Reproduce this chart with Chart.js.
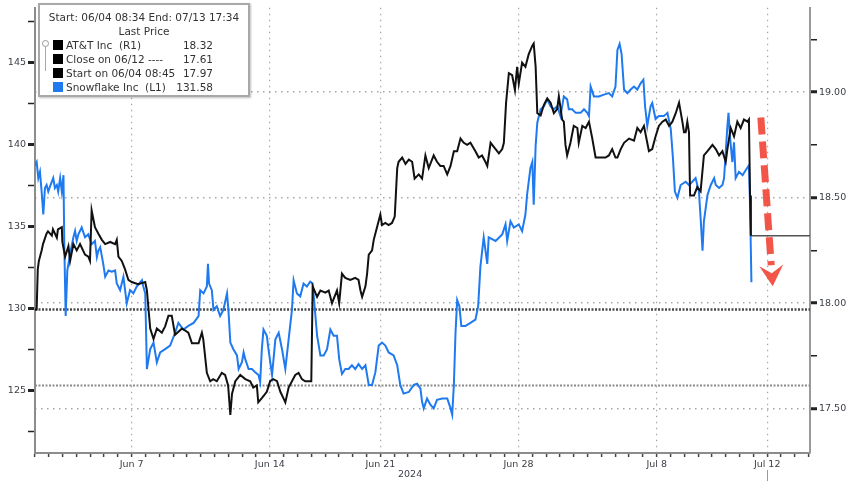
<!DOCTYPE html>
<html>
<head>
<meta charset="utf-8">
<title>AT&amp;T vs Snowflake</title>
<script src="https://cdn.jsdelivr.net/npm/chart.js@4.4.1/dist/chart.umd.min.js"></script>
<style>
  html, body { margin: 0; padding: 0; background: #fff; }
  #wrap { position: relative; width: 848px; height: 481px; overflow: hidden; font-family: "DejaVu Sans", sans-serif; color: #333; }
  #legend { position: absolute; left: 38px; top: 3px; width: 212px; height: 94px; box-sizing: border-box;
            border: 2px solid #a8a8a8; background: #fff; box-shadow: 1px 1px 2px rgba(0,0,0,0.25); font-size: 10.5px; }
  #legend .hdr { position: absolute; left: 0; right: 0; text-align: center; line-height: 13px; white-space: nowrap; }
  #legend .row { position: absolute; left: 0; right: 0; height: 13px; line-height: 13px; white-space: pre; }
  #legend .sw { position: absolute; left: 13px; top: 1.5px; width: 10px; height: 10px; }
  #legend .name { position: absolute; left: 26px; }
  #legend .val { position: absolute; right: 35px; }
  #legend .link { position: absolute; left: 5px; top: 39px; width: 0; height: 27px; border-left: 1px solid #aaa; }
  #legend .knob { position: absolute; left: 2px; top: 35px; width: 5px; height: 5px; border: 1px solid #999; border-radius: 50%; background: #fff; }
  #year { position: absolute; left: 398px; top: 468px; font-size: 9.5px; color: #3c4048; }
</style>
</head>
<body>
<div id="wrap">
  <canvas id="priceChart"></canvas>
  <div id="legend">
    <div class="hdr" style="top:5.5px">Start: 06/04 08:34 End: 07/13 17:34</div>
    <div class="hdr" style="top:19.5px">Last Price</div>
    <div class="link"></div>
    <div class="knob"></div>
    <div class="row" style="top:33.5px"><span class="sw" style="background:#000"></span><span class="name">AT&amp;T Inc  (R1)</span><span class="val" id="vAtt"></span></div>
    <div class="row" style="top:47.5px"><span class="sw" style="background:#000"></span><span class="name">Close on 06/12 ----</span><span class="val" id="vClose"></span></div>
    <div class="row" style="top:61.5px"><span class="sw" style="background:#000"></span><span class="name">Start on 06/04 08:45</span><span class="val" id="vStart"></span></div>
    <div class="row" style="top:75.5px"><span class="sw" style="background:#1f7af0"></span><span class="name">Snowflake Inc  (L1)</span><span class="val" id="vSnow"></span></div>
  </div>
  <div id="year">2024</div>
</div>
<script>
// x values are trading days since 06/04 (weekends and holidays left out)
const attTimes = [0,0.06,0.10,0.14,0.24,0.29,0.42,0.47,0.61,0.65,
  0.79,0.83,0.97,0.99,1.09,1.21,1.27,1.39,1.51,1.63,
  1.81,1.93,1.99,2.05,2.17,2.29,2.42,2.54,2.72,2.90,
  2.96,3.02,3.14,3.26,3.38,3.50,3.73,3.99,4.05,4.17,
  4.29,4.41,4.59,4.71,4.83,4.95,5.07,5.32,5.55,5.68,
  5.92,6.04,6.09,6.22,6.34,6.45,6.58,6.76,6.88,6.99,
  7.07,7.13,7.25,7.43,7.61,7.79,7.90,8.03,8.08,8.21,
  8.39,8.51,8.62,8.76,8.88,8.99,9.06,9.18,9.30,9.42,
  9.54,9.66,9.78,10.00,10.05,10.21,10.33,10.51,10.63,10.75,
  10.93,11.01,11.11,11.23,11.41,11.59,11.71,11.78,11.84,11.96,
  12.02,12.08,12.20,12.26,12.32,12.44,12.50,12.56,12.68,12.80,
  12.92,13.02,13.11,13.16,13.29,13.41,13.53,13.65,13.74,13.89,
  14.01,14.13,14.25,14.43,14.55,14.67,14.79,14.92,15.04,15.16,
  15.28,15.40,15.52,15.64,15.76,15.94,16.06,16.18,16.30,16.37,
  16.49,16.67,16.79,16.91,16.97,17.05,17.15,17.27,17.37,17.45,
  17.51,17.63,17.75,17.87,18.00,18.05,18.12,18.18,18.30,18.42,
  18.54,18.66,18.78,18.90,18.96,19.08,19.14,19.20,19.26,19.38,
  19.50,19.63,19.68,19.81,19.93,20.05,20.17,20.29,20.41,20.65,
  20.77,20.89,21.01,21.08,21.20,21.32,21.50,21.68,21.80,21.92,
  22.04,22.16,22.22,22.34,22.46,22.58,22.71,22.83,22.95,23.07,
  23.19,23.31,23.43,23.49,23.55,23.61,23.67,23.71,23.85,23.97,
  24.09,24.21,24.34,24.52,24.64,24.76,24.88,25.00,25.06,25.18,
  25.30,25.42,25.54,25.66,25.79,25.84,25.88,25.91];
const attPrices = [17.97,17.97,18.16,18.20,18.25,18.28,18.33,18.34,18.32,18.35,
  18.31,18.35,18.36,18.29,18.22,18.27,18.20,18.28,18.25,18.28,
  18.23,18.22,18.20,18.44,18.36,18.33,18.30,18.28,18.29,18.28,
  18.30,18.22,18.20,18.16,18.11,18.10,18.09,18.10,18.06,17.88,
  17.83,17.88,17.86,17.89,17.94,17.94,17.85,17.88,17.86,17.81,
  17.81,17.86,17.83,17.67,17.63,17.64,17.63,17.67,17.66,17.61,
  17.47,17.57,17.63,17.66,17.64,17.63,17.60,17.61,17.53,17.55,
  17.58,17.63,17.64,17.63,17.58,17.55,17.53,17.60,17.63,17.66,
  17.67,17.64,17.63,17.63,18.08,18.03,18.06,18.05,18.06,18.00,
  18.06,18.00,18.14,18.12,18.11,18.12,18.11,18.06,18.03,18.08,
  18.14,18.23,18.25,18.30,18.33,18.39,18.42,18.37,18.38,18.37,
  18.38,18.41,18.64,18.67,18.69,18.66,18.68,18.67,18.59,18.61,
  18.59,18.70,18.64,18.70,18.67,18.65,18.65,18.61,18.65,18.72,
  18.72,18.78,18.76,18.75,18.76,18.72,18.69,18.70,18.67,18.65,
  18.76,18.73,18.71,18.73,18.76,18.95,19.09,19.08,19.01,19.12,
  19.04,19.14,19.12,19.18,19.22,19.23,19.12,18.90,18.89,18.94,
  18.97,18.95,18.90,18.92,18.98,18.87,18.86,18.75,18.70,18.76,
  18.84,18.83,18.76,18.84,18.83,18.86,18.78,18.69,18.69,18.69,
  18.70,18.73,18.69,18.69,18.73,18.76,18.78,18.77,18.83,18.81,
  18.84,18.76,18.72,18.73,18.79,18.84,18.86,18.87,18.84,18.86,
  18.90,18.95,18.86,18.81,18.81,18.86,18.81,18.51,18.51,18.55,
  18.53,18.70,18.72,18.75,18.73,18.70,18.72,18.67,18.73,18.83,
  18.79,18.86,18.83,18.87,18.86,18.87,18.51,18.32];

const snowTimes = [0,0.06,0.12,0.18,0.24,0.30,0.36,0.42,0.48,0.54,
  0.66,0.72,0.79,0.84,0.91,0.97,1.03,1.06,1.11,1.17,
  1.27,1.39,1.45,1.51,1.57,1.69,1.81,1.93,2.05,2.17,
  2.24,2.29,2.36,2.47,2.54,2.66,2.78,2.90,2.96,3.08,
  3.20,3.32,3.44,3.56,3.68,3.87,3.92,3.99,4.05,4.17,
  4.29,4.41,4.53,4.71,4.89,5.07,5.19,5.37,5.55,5.74,
  5.92,5.98,6.10,6.22,6.26,6.30,6.40,6.46,6.58,6.70,
  6.82,6.95,7.00,7.07,7.18,7.31,7.37,7.49,7.55,7.61,
  7.73,7.85,7.97,8.09,8.15,8.21,8.27,8.39,8.45,8.58,
  8.70,8.82,8.94,9.06,9.18,9.30,9.36,9.48,9.60,9.72,
  9.84,9.96,10.05,10.12,10.21,10.33,10.45,10.57,10.69,10.81,
  10.93,11.01,11.11,11.23,11.35,11.47,11.59,11.71,11.84,11.96,
  12.08,12.20,12.32,12.44,12.56,12.68,12.80,12.98,13.11,13.22,
  13.34,13.53,13.71,13.83,13.95,14.01,14.07,14.19,14.31,14.43,
  14.55,14.74,14.92,15.04,15.10,15.16,15.22,15.28,15.36,15.43,
  15.58,15.76,15.94,16.04,16.12,16.24,16.37,16.42,16.67,16.91,
  17.03,17.09,17.21,17.33,17.51,17.63,17.75,17.81,17.93,18.00,
  18.05,18.12,18.18,18.30,18.42,18.54,18.66,18.78,18.90,19.02,
  19.14,19.26,19.32,19.44,19.57,19.75,19.87,19.99,20.05,20.11,
  20.23,20.41,20.59,20.77,20.89,21.01,21.08,21.16,21.23,21.32,
  21.44,21.56,21.68,21.80,21.92,22.02,22.08,22.16,22.28,22.34,
  22.46,22.58,22.76,22.89,23.01,23.09,23.16,23.25,23.37,23.55,
  23.67,23.79,23.91,23.97,24.03,24.09,24.16,24.21,24.34,24.46,
  24.58,24.64,24.76,24.88,24.94,25.00,25.06,25.10,25.16,25.24,
  25.30,25.36,25.48,25.61,25.72,25.84,25.88,25.93];
const snowPrices = [138.71,138.91,137.93,138.31,137.11,135.71,137.33,137.51,137.11,137.41,
  137.93,137.33,137.51,137.11,137.93,137.11,138.11,133.90,129.52,132.30,
  133.30,134.32,134.70,134.10,134.50,134.92,134.32,134.50,133.90,134.10,
  133.12,133.50,133.72,132.70,131.92,132.30,132.22,132.30,131.50,131.10,
  131.92,130.30,131.10,130.90,131.32,131.70,131.32,130.90,126.29,127.50,
  127.90,126.70,127.30,127.50,127.72,128.50,129.10,128.70,128.92,129.10,
  129.52,131.10,130.90,131.32,132.70,131.50,131.10,129.90,130.12,129.52,
  129.90,130.90,129.90,127.90,127.50,127.12,126.29,126.70,127.30,126.89,
  126.29,126.29,126.10,125.92,125.50,127.50,128.70,128.32,127.50,125.92,
  128.10,128.50,127.50,126.29,128.10,129.90,131.70,130.90,130.72,131.50,
  131.32,131.62,131.50,130.12,128.32,127.12,127.12,127.50,128.70,128.32,
  128.32,126.89,125.99,126.29,126.29,126.52,126.29,126.59,126.29,126.52,
  125.32,125.32,126.10,127.72,127.90,127.72,127.30,127.12,126.52,125.32,
  124.79,124.89,125.32,125.39,125.09,124.29,123.89,124.49,124.11,123.89,
  124.41,124.49,124.49,123.89,123.51,125.32,128.50,130.50,130.12,128.92,
  128.92,129.10,129.30,130.12,132.52,134.32,132.70,134.32,134.10,134.50,
  135.11,134.10,135.30,134.92,135.11,134.70,135.71,136.91,138.53,138.91,
  136.31,139.91,141.31,142.13,142.31,142.73,142.31,142.13,142.31,141.71,
  142.91,142.73,142.13,142.13,141.91,141.91,142.13,141.91,141.71,143.51,
  142.91,142.91,143.02,143.11,142.91,143.51,145.74,146.11,145.51,143.33,
  143.11,143.33,143.51,143.33,143.71,143.93,142.31,141.11,142.31,142.51,
  141.53,141.71,141.71,141.91,140.93,139.13,137.11,136.73,137.51,137.71,
  137.51,137.71,137.93,137.51,137.11,135.53,133.50,135.30,136.91,137.51,
  137.93,137.51,137.33,137.51,137.93,139.51,141.11,141.91,140.33,138.91,
  140.11,137.93,138.31,138.11,138.41,138.71,136.31,131.58];

const startLevel = 17.97;   // Start on 06/04 08:45
const closeLevel = 17.61;   // Close on 06/12
const xMax = 28.05;         // 07/13 17:34

const xLabelPos = [3.5, 8.5, 12.5, 17.5, 22.5, 26.5];
const xLabels = ['Jun 7', 'Jun 14', 'Jun 21', 'Jun 28', 'Jul 8', 'Jul 12'];
const leftTicks = [122.5, 125, 127.5, 130, 132.5, 135, 137.5, 140, 142.5, 145, 147.5];
const leftLabels = [125, 130, 135, 140, 145];
const rightTicks = [17.5, 17.75, 18, 18.25, 18.5, 18.75, 19, 19.25];
const rightLabels = [17.5, 18, 18.5, 19];

// red arrow, in (trading day, AT&T price) units
const arrowFrom = [26.27, 18.88];
const arrowTo = [26.70, 18.08];

const FONT = 'DejaVu Sans';
const TICK_TEXT = '#3c4048';
const GRID = '#a8a8a8';

const same = (a, b) => Math.abs(a - b) < 1e-6;
const inList = (v, list) => list.some(p => same(p, v));

function toPoints(xs, ys) {
  const n = Math.min(xs.length, ys.length);
  const pts = [];
  for (let i = 0; i < n; i++) pts.push({ x: xs[i], y: ys[i] });
  return pts;
}

const attPoints = toPoints(attTimes, attPrices);
const snowPoints = toPoints(snowTimes, snowPrices);
const attLast = attPrices[attPrices.length - 1];
const attLastTime = attTimes[attTimes.length - 1];
const snowLast = snowPrices[snowPrices.length - 1];

document.getElementById('vAtt').textContent = attLast.toFixed(2);
document.getElementById('vClose').textContent = closeLevel.toFixed(2);
document.getElementById('vStart').textContent = startLevel.toFixed(2);
document.getElementById('vSnow').textContent = snowLast.toFixed(2);

const xTickValues = [];
for (let v = 0; v <= 28; v += 0.5) xTickValues.push(v);

const arrowPlugin = {
  id: 'arrow',
  afterDatasetsDraw(chart) {
    const { ctx, scales } = chart;
    const x0 = scales.x.getPixelForValue(arrowFrom[0]);
    const y0 = scales.y2.getPixelForValue(arrowFrom[1]);
    const x1 = scales.x.getPixelForValue(arrowTo[0]);
    const y1 = scales.y2.getPixelForValue(arrowTo[1]);
    const ang = Math.atan2(y1 - y0, x1 - x0);
    const c = Math.cos(ang), s = Math.sin(ang);
    const nx = -s, ny = c;
    const headLen = 21, headHalf = 12, notch = 8;
    const bx = x1 - headLen * c, by = y1 - headLen * s;
    ctx.save();
    ctx.strokeStyle = 'rgba(240,72,58,0.92)';
    ctx.fillStyle = 'rgba(240,72,58,0.92)';
    ctx.lineWidth = 7;
    ctx.setLineDash([17, 7]);
    ctx.beginPath();
    ctx.moveTo(x0, y0);
    ctx.lineTo(bx, by);
    ctx.stroke();
    ctx.setLineDash([]);
    ctx.beginPath();
    ctx.moveTo(x1, y1);
    ctx.lineTo(bx + nx * headHalf, by + ny * headHalf);
    ctx.lineTo(bx + notch * c, by + notch * s);
    ctx.lineTo(bx - nx * headHalf, by - ny * headHalf);
    ctx.closePath();
    ctx.fill();
    ctx.restore();
  },
  afterDraw(chart) {
    // small year marker under the last date label
    const { ctx, scales } = chart;
    const xp = Math.round(scales.x.getPixelForValue(xLabelPos[xLabelPos.length - 1])) + 0.5;
    ctx.save();
    ctx.strokeStyle = '#999';
    ctx.lineWidth = 1;
    ctx.beginPath();
    ctx.moveTo(xp, 470);
    ctx.lineTo(xp, 481);
    ctx.stroke();
    ctx.restore();
  },
};

const ctx = document.getElementById('priceChart');
const priceChart = new Chart(ctx, {
  type: 'line',
  plugins: [arrowPlugin],
  data: {
    datasets: [
      {
        label: 'AT&T Inc',
        data: attPoints,
        yAxisID: 'y2',
        borderColor: '#111',
        borderWidth: 2,
        order: 1,
      },
      {
        label: 'Snowflake Inc',
        data: snowPoints,
        yAxisID: 'y',
        borderColor: '#1f7af0',
        borderWidth: 2,
        order: 2,
      },
      {
        label: 'Last price',
        data: [{ x: attLastTime, y: attLast }, { x: xMax, y: attLast }],
        yAxisID: 'y2',
        borderColor: '#555',
        borderWidth: 1.5,
        order: 3,
      },
      {
        label: 'Start on 06/04 08:45',
        data: [{ x: 0, y: startLevel }, { x: xMax, y: startLevel }],
        yAxisID: 'y2',
        borderColor: '#4a4a4a',
        borderWidth: 2.5,
        borderDash: [2, 1.5],
        order: 4,
      },
      {
        label: 'Close on 06/12',
        data: [{ x: 0, y: closeLevel }, { x: xMax, y: closeLevel }],
        yAxisID: 'y2',
        borderColor: '#8c8c8c',
        borderWidth: 2,
        borderDash: [2, 1.5],
        order: 5,
      },
    ],
  },
  options: {
    responsive: true,
    maintainAspectRatio: false,
    animation: false,
    layout: { padding: 0 },
    elements: { point: { radius: 0 }, line: { tension: 0 } },
    plugins: { legend: { display: false }, tooltip: { enabled: false } },
    scales: {
      x: {
        type: 'linear',
        min: 0,
        max: xMax,
        afterBuildTicks: (scale) => { scale.ticks = xTickValues.map(v => ({ value: v })); },
        afterFit: (scale) => { scale.height = 28; },
        ticks: {
          autoSkip: false,
          maxRotation: 0,
          padding: 2,
          color: TICK_TEXT,
          font: { family: FONT, size: 9.5 },
          callback: (v) => {
            const i = xLabelPos.findIndex(p => same(p, v));
            return i >= 0 ? xLabels[i] : '';
          },
        },
        grid: {
          color: (c) => (c.tick && inList(c.tick.value, xLabelPos) ? GRID : 'rgba(0,0,0,0)'),
          lineWidth: 1.2,
          tickLength: 4,
          tickColor: '#444',
          tickWidth: 1.5,
        },
        border: { color: '#8c8c8c', width: 2, dash: [1.5, 4.5] },
      },
      y: {
        position: 'left',
        min: 121.17,
        max: 148.32,
        afterBuildTicks: (scale) => { scale.ticks = leftTicks.map(v => ({ value: v })); },
        afterFit: (scale) => { scale.width = 35; },
        ticks: {
          autoSkip: false,
          padding: 2,
          color: TICK_TEXT,
          font: { family: FONT, size: 9.5 },
          callback: (v) => (inList(v, leftLabels) ? String(v) : ''),
        },
        grid: {
          drawOnChartArea: false,
          tickLength: 7,
          tickColor: '#222',
          tickWidth: (c) => (c.tick && inList(c.tick.value, leftLabels) ? 3 : 1.5),
        },
        border: { color: '#8c8c8c', width: 2 },
      },
      y2: {
        position: 'right',
        min: 17.29,
        max: 19.40,
        afterBuildTicks: (scale) => { scale.ticks = rightTicks.map(v => ({ value: v })); },
        afterFit: (scale) => { scale.width = 38; },
        ticks: {
          autoSkip: false,
          padding: 2,
          color: TICK_TEXT,
          font: { family: FONT, size: 9.5 },
          callback: (v) => (inList(v, rightLabels) ? v.toFixed(2) : ''),
        },
        grid: {
          color: (c) => (c.tick && inList(c.tick.value, rightLabels) ? GRID : 'rgba(0,0,0,0)'),
          lineWidth: 1.5,
          tickLength: 7,
          tickColor: '#222',
          tickWidth: (c) => (c.tick && inList(c.tick.value, rightLabels) ? 3 : 1.5),
        },
        border: { color: '#9a9a9a', width: 2, dash: [1.5, 4.5] },
      },
    },
  },
});
</script>
</body>
</html>
